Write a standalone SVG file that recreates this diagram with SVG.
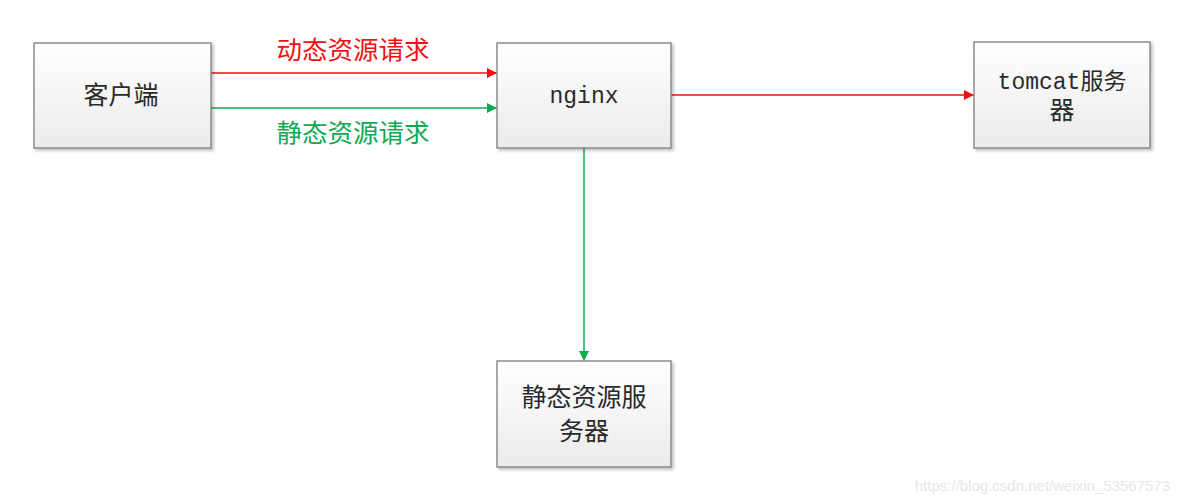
<svg xmlns="http://www.w3.org/2000/svg" width="1179" height="504" viewBox="0 0 1179 504">
<style>
.box{fill:url(#g);stroke:#8c8c8c;stroke-width:1.5;filter:url(#sh)}
.t{font-family:"Liberation Mono","Noto Sans CJK SC",monospace;font-size:23px;fill:#2a2a2a;text-anchor:middle}
.c{font-size:25px}
.lbl{font-family:"Noto Sans CJK SC",sans-serif;font-size:25.5px;text-anchor:middle}
.red{stroke:#f01010;stroke-width:1.5;fill:none}
.grn{stroke:#10a850;stroke-width:1.5;fill:none}
</style>
<defs>
<linearGradient id="g" x1="0" y1="0" x2="0" y2="1">
<stop offset="0" stop-color="#ffffff"/>
<stop offset="1" stop-color="#ebebeb"/>
</linearGradient>
<filter id="sh" x="-10%" y="-10%" width="125%" height="125%">
<feDropShadow dx="2" dy="2" stdDeviation="1.5" flood-color="#000" flood-opacity="0.25"/>
</filter>
<marker id="ar" viewBox="0 0 10 10" refX="10" refY="5" markerWidth="11" markerHeight="10" markerUnits="userSpaceOnUse" orient="auto"><path d="M0,0L10,5L0,10z" fill="#f01010"/></marker>
<marker id="ag" viewBox="0 0 10 10" refX="10" refY="5" markerWidth="11" markerHeight="10" markerUnits="userSpaceOnUse" orient="auto"><path d="M0,0L10,5L0,10z" fill="#10a850"/></marker>
</defs>
<rect width="1179" height="504" fill="#fff"/>
<g id="connectors">
<line class="red" x1="211" y1="73" x2="497" y2="73" marker-end="url(#ar)"/>
<line class="grn" x1="211" y1="108" x2="497" y2="108" marker-end="url(#ag)"/>
<line class="red" x1="671" y1="95" x2="974" y2="95" marker-end="url(#ar)"/>
<line class="grn" x1="584" y1="148" x2="584" y2="361" marker-end="url(#ag)"/>
<text class="lbl" x="353" y="59" fill="#f01010">动态资源请求</text>
<text class="lbl" x="353" y="142" fill="#10a850">静态资源请求</text>
</g>
<g id="client">
<rect class="box" x="34" y="43" width="177" height="105"/>
<text class="t c" x="121" y="104">客户端</text>
</g>
<g id="nginx">
<rect class="box" x="497" y="43" width="174" height="105"/>
<text class="t" x="584" y="103">nginx</text>
</g>
<g id="tomcat">
<rect class="box" x="974" y="42" width="176" height="106"/>
<text class="t" x="1062" y="89">tomcat服务</text>
<text class="t c" x="1062" y="119">器</text>
</g>
<g id="static">
<rect class="box" x="497" y="361" width="174" height="106"/>
<text class="t c" x="584" y="406">静态资源服</text>
<text class="t c" x="584" y="440">务器</text>
</g>
<text x="1170" y="491" font-family="Liberation Sans,sans-serif" font-size="15" fill="#e6e6e6" text-anchor="end">https://blog.csdn.net/weixin_53567573</text>
</svg>
